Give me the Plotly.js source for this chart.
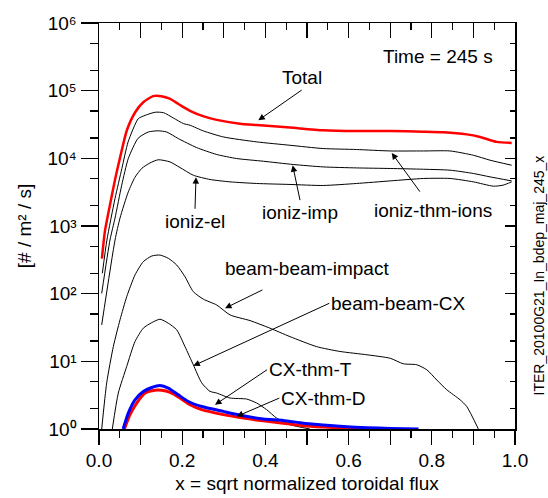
<!DOCTYPE html>
<html>
<head>
<meta charset="utf-8">
<script src="https://cdn.plot.ly/plotly-3.0.1.min.js"></script>
<style>
html,body{margin:0;padding:0;background:#fff;}
#chart{width:548px;height:498px;}
</style>
</head>
<body>
<div id="chart"></div>
<script>
// ---- data ----
const xTotal = [0.007, 0.014, 0.026, 0.039, 0.051, 0.067, 0.087, 0.107, 0.13, 0.15, 0.17, 0.19, 0.203, 0.22, 0.25, 0.283, 0.339, 0.379, 0.459, 0.539, 0.62, 0.70, 0.78, 0.828, 0.884, 0.916, 0.956, 0.992];
const yTotal = [330, 820, 2000, 5000, 10500, 26000, 48000, 68000, 83000, 83000, 76000, 64000, 57000, 50000, 42000, 37000, 32500, 31000, 28500, 26000, 25300, 25300, 24800, 24300, 22600, 20700, 17500, 16900];

const xThmIons = [0.008, 0.019, 0.0385, 0.055, 0.070, 0.0945, 0.111, 0.135, 0.155, 0.179, 0.203, 0.219, 0.251, 0.299, 0.379, 0.459, 0.539, 0.619, 0.70, 0.78, 0.844, 0.90, 0.94, 0.992];
const yThmIons = [200, 620, 2550, 7080, 17500, 38600, 43200, 48000, 47300, 39400, 32600, 30800, 25400, 20700, 17500, 15600, 13950, 13500, 12850, 12850, 12850, 11100, 9380, 7910];

const xImp = [0.0065, 0.0264, 0.0385, 0.0546, 0.0704, 0.094, 0.1185, 0.1425, 0.1627, 0.1906, 0.2349, 0.2829, 0.331, 0.395, 0.467, 0.539, 0.619, 0.70, 0.78, 0.844, 0.90, 0.94, 0.992];
const yImp = [101, 620, 1310, 4010, 9930, 19800, 24500, 25500, 24500, 19600, 14400, 11400, 9930, 9060, 8110, 7470, 7220, 7080, 6900, 6680, 5970, 5320, 4640];

const xEl = [0.0065, 0.0385, 0.0505, 0.0704, 0.0865, 0.1034, 0.1226, 0.1425, 0.1707, 0.1947, 0.2267, 0.2668, 0.315, 0.379, 0.459, 0.539, 0.619, 0.70, 0.78, 0.844, 0.90, 0.948, 0.971, 0.992];
const yEl = [34.5, 620, 1310, 3190, 5260, 7150, 8550, 9530, 8850, 7310, 5630, 4870, 4490, 4250, 4110, 3970, 4250, 4640, 5040, 5040, 4490, 3880, 4010, 4490];

const xBBImpact = [0.0065, 0.0185, 0.0344, 0.0505, 0.0666, 0.0865, 0.1065, 0.1267, 0.1466, 0.1666, 0.1868, 0.2067, 0.2267, 0.2507, 0.2829, 0.315, 0.363, 0.411, 0.459, 0.523, 0.579, 0.644, 0.70, 0.7315, 0.764, 0.788, 0.812, 0.836, 0.868, 0.884, 0.912];
const yBBImpact = [1, 4.8, 16.5, 41, 90, 189, 297, 360, 372, 333, 265, 178, 107, 83, 68, 48.5, 40, 30.9, 23.2, 16.5, 14, 12.5, 11.1, 9.2, 8.9, 7.5, 5.3, 3.8, 2.7, 2.15, 1];

const xBBCX = [0.032, 0.0464, 0.0666, 0.0865, 0.1065, 0.1267, 0.1466, 0.1666, 0.1868, 0.2067, 0.2267, 0.2469, 0.2668, 0.2829, 0.315, 0.355, 0.379, 0.403, 0.427, 0.459, 0.507];
const yBBCX = [1, 3.4, 8.4, 19.6, 30.9, 37.3, 41.9, 36.6, 29.2, 16.5, 8.9, 4.8, 3.6, 3.4, 2.87, 2.77, 2.42, 1.93, 1.45, 1.16, 1];

const xCXT = [0.058, 0.0704, 0.0865, 0.1065, 0.1267, 0.1466, 0.1666, 0.1906, 0.2147, 0.2469, 0.2988, 0.347, 0.395, 0.443, 0.491, 0.539, 0.587, 0.644, 0.70, 0.768];
const yCXT = [1, 1.72, 2.7, 3.59, 4.11, 4.4, 4.03, 3.2, 2.55, 2.15, 1.82, 1.57, 1.40, 1.34, 1.22, 1.15, 1.09, 1.045, 1.02, 1.0];

const xCXD = [0.061, 0.0745, 0.0906, 0.1106, 0.1305, 0.1507, 0.1707, 0.1947, 0.2188, 0.2469, 0.2988, 0.347, 0.395, 0.443, 0.491, 0.539, 0.587, 0.688];
const yCXD = [1, 1.63, 2.42, 3.4, 3.71, 3.73, 3.47, 2.87, 2.28, 1.93, 1.63, 1.45, 1.32, 1.22, 1.12, 1.07, 1.035, 1.0];

const yTickVals = [1, 10, 100, 1000, 10000, 100000, 1000000];
const yTickText = ['10\u2070', '10\u00B9', '10\u00B2', '10\u00B3', '10\u2074', '10\u2075', '10\u2076'];
const yMinorVals = [2, 5, 20, 50, 200, 500, 2000, 5000, 20000, 50000, 200000, 500000];

// ---- figure ----
const FONT = 'Liberation Sans, Arial, Helvetica, sans-serif';
const black = {color: '#000', width: 1};
function line(x, y, name, ln) {
  return {x: x, y: y, name: name, type: 'scatter', mode: 'lines', line: Object.assign({shape: 'spline', smoothing: 0.6}, ln), hoverinfo: 'skip', showlegend: false};
}
const traces = [
  line(xBBImpact, yBBImpact, 'beam-beam-impact', black),
  line(xBBCX, yBBCX, 'beam-beam-CX', black),
  line(xEl, yEl, 'ioniz-el', black),
  line(xImp, yImp, 'ioniz-imp', black),
  line(xThmIons, yThmIons, 'ioniz-thm-ions', black),
  line(xCXD, yCXD, 'CX-thm-D', {color: '#ff0000', width: 3}),
  line(xCXT, yCXT, 'CX-thm-T', {color: '#0000ff', width: 3}),
  line(xTotal, yTotal, 'Total', {color: '#ff0000', width: 2.5}),
  {x: [null], y: [null], xaxis: 'x2', yaxis: 'y2', type: 'scatter', mode: 'lines', showlegend: false, hoverinfo: 'skip'}
];

const textFont = {family: FONT, size: 19, color: '#000'};
// label with its own arrow: (hx, hy) = arrow tip, (tx, ty) = anchor point of the text box (log10 units on y)
function pointer(text, hx, hy, tx, ty, xa, ya, cut) {
  return {x: hx, y: hy, ax: tx, ay: ty, xref: 'x', yref: 'y', axref: 'x', ayref: 'y', text: text, font: textFont,
          xanchor: xa, yanchor: ya, showarrow: true, arrowhead: 2, arrowsize: 1.3, arrowwidth: 1, arrowcolor: '#000',
          startstandoff: cut || 0, borderpad: 1};
}
const annotations = [
  {x: 0.8137, y: 5.506, xref: 'x', yref: 'y', text: 'Time = 245 s', showarrow: false, font: textFont, xanchor: 'center', yanchor: 'middle'},
  pointer('Total', 0.383, 4.562, 0.4873, 5.009, 'center', 'bottom'),
  pointer('ioniz-el', 0.2332, 3.721, 0.2308, 3.254, 'center', 'top'),
  pointer('ioniz-imp', 0.4656, 3.898, 0.4832, 3.382, 'center', 'top'),
  pointer('ioniz-thm-ions', 0.7036, 4.08, 0.8036, 3.235, 'center', 'middle', 8),
  pointer('beam-beam-impact', 0.3029, 1.785, 0.4993, 2.375, 'center', 'middle', 22),
  pointer('beam-beam-CX', 0.2267, 0.934, 0.5536, 1.858, 'left', 'middle'),
  pointer('CX-thm-T', 0.2788, 0.358, 0.4038, 0.875, 'left', 'middle'),
  pointer('CX-thm-D', 0.331, 0.186, 0.4334, 0.457, 'left', 'middle'),
  {x: 1.0565, y: 0.377, xref: 'paper', yref: 'paper', text: 'ITER_20100G21_In_bdep_maj_245_x', textangle: -90, showarrow: false,
   font: {family: FONT, size: 14, color: '#000'}, xanchor: 'center', yanchor: 'middle'}
];

const axisCommon = {showgrid: false, zeroline: false, showline: true, linecolor: '#000', linewidth: 1.5, tickcolor: '#000', tickwidth: 1.3,
  tickfont: {family: FONT, size: 19, color: '#000'}};

const layout = {
  width: 548, height: 498,
  margin: {l: 99, r: 33, t: 23, b: 69, pad: 0},
  paper_bgcolor: '#fff', plot_bgcolor: '#fff',
  font: {family: FONT, size: 19, color: '#000'},
  xaxis: Object.assign({}, axisCommon, {
    range: [0, 1], tickmode: 'linear', tick0: 0, dtick: 0.1, ticklabelstep: 2, tickformat: '.1f', ticks: 'outside', ticklen: 14,
    minor: {tickmode: 'linear', tick0: 0, dtick: 0.05, ticks: 'outside', ticklen: 7, tickcolor: '#000', tickwidth: 1.3},
    title: {text: 'x = sqrt normalized toroidal flux', font: {family: FONT, size: 19}, standoff: 6}
  }),
  yaxis: Object.assign({}, axisCommon, {
    type: 'log', range: [0, 6], tickmode: 'array', tickvals: yTickVals, ticktext: yTickText, ticks: 'outside', ticklen: 17,
    minor: {tickmode: 'array', tickvals: yMinorVals, ticks: 'outside', ticklen: 8, tickcolor: '#000', tickwidth: 1.3},
    title: {text: '[# / m\u00B2 / s]', font: {family: FONT, size: 19}, standoff: 10}
  }),
  xaxis2: Object.assign({}, axisCommon, {
    overlaying: 'x', side: 'top', anchor: 'y2', range: [0, 1], tickmode: 'linear', tick0: 0, dtick: 0.1, ticks: 'inside', ticklen: 15,
    showticklabels: false,
    minor: {tickmode: 'linear', tick0: 0, dtick: 0.05, ticks: 'inside', ticklen: 7, tickcolor: '#000', tickwidth: 1.3}
  }),
  yaxis2: Object.assign({}, axisCommon, {
    overlaying: 'y', side: 'right', anchor: 'x2', type: 'log', range: [0, 6], tickmode: 'array', tickvals: yTickVals, ticks: 'inside', ticklen: 10,
    showticklabels: false,
    minor: {tickmode: 'array', tickvals: yMinorVals, ticks: 'inside', ticklen: 5, tickcolor: '#000', tickwidth: 1.3}
  }),
  annotations: annotations,
  showlegend: false
};

Plotly.newPlot('chart', traces, layout, {displayModeBar: false, staticPlot: true});
</script>
</body>
</html>
